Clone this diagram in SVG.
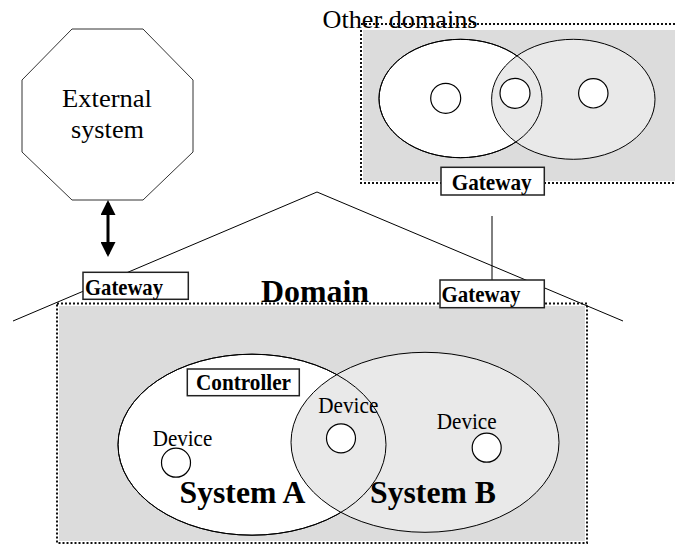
<svg xmlns="http://www.w3.org/2000/svg" width="675" height="545" viewBox="0 0 675 545">
<style>
  .serif { font-family: "Liberation Serif", "Times New Roman", serif; fill: #000; }
  .big { font-size: 26px; }
  .dev { font-size: 23px; }
  .lbl { font-size: 23px; font-weight: bold; }
  .title { font-size: 32px; font-weight: bold; }
  .box { fill: #fff; stroke: #222; stroke-width: 1.5; }
  .thin { fill: none; stroke: #000; stroke-width: 1; }
  .dots { fill: none; stroke: #111; stroke-width: 2; stroke-dasharray: 2 2; }
  .bg { fill: #dcdcdc; }
  .sysA { fill: #fff; stroke: #000; stroke-width: 1; }
  .sysB { fill: #e9e9e9; stroke: #000; stroke-width: 1; }
  .dot { fill: #fff; stroke: #000; stroke-width: 1.2; }
</style>
<defs>
  <marker id="head" markerUnits="userSpaceOnUse" markerWidth="15" markerHeight="15" refX="12" refY="7.5" orient="auto-start-reverse">
    <path d="M0,0 L15,7.5 L0,15 z" fill="#000"/>
  </marker>
</defs>

<!-- Other domains -->
<g id="other-domains">
  <rect class="bg" x="363" y="30" width="312" height="151"/>
  <text class="serif big" x="322.5" y="28" textLength="155" lengthAdjust="spacingAndGlyphs">Other domains</text>
  <path class="dots" d="M361,24 H675 M361,30 V183 H675"/>
  <ellipse class="sysA" cx="460.5" cy="98.5" rx="81.5" ry="59.2"/>
  <ellipse class="sysB" cx="573.3" cy="99.3" rx="81.7" ry="60"/>
  <ellipse class="thin" cx="460.5" cy="98.5" rx="81.5" ry="59.2"/>
  <circle class="dot" cx="445.7" cy="98.3" r="15"/>
  <circle class="dot" cx="515" cy="93.3" r="15"/>
  <circle class="dot" cx="593.3" cy="93.3" r="14.7"/>
</g>

<!-- Domain area -->
<g id="domain">
  <rect class="bg" x="59" y="306" width="526" height="235"/>
  <rect class="dots" x="57" y="303.5" width="530" height="239.5"/>
  <ellipse class="sysA" cx="252" cy="444.7" rx="134" ry="90.5"/>
  <ellipse class="sysB" cx="425" cy="442.3" rx="134" ry="90"/>
  <ellipse class="thin" cx="252" cy="444.7" rx="134" ry="90.5"/>
  <text class="serif title" x="261" y="301.5" textLength="108" lengthAdjust="spacingAndGlyphs">Domain</text>
</g>

<g id="system-a">
  <text class="serif title" x="179.5" y="503.3" textLength="126" lengthAdjust="spacingAndGlyphs">System A</text>
</g>
<g id="system-b">
  <text class="serif title" x="370" y="503.3" textLength="126" lengthAdjust="spacingAndGlyphs">System B</text>
</g>

<g id="controller">
  <rect class="box" x="187.3" y="369" width="112" height="26.7"/>
  <text class="serif lbl" x="196" y="389.5" textLength="95" lengthAdjust="spacingAndGlyphs">Controller</text>
</g>

<g id="device-left">
  <text class="serif dev" x="152.7" y="445.7" textLength="59.6" lengthAdjust="spacingAndGlyphs">Device</text>
  <circle class="dot" cx="176" cy="462.7" r="14.5"/>
</g>
<g id="device-middle">
  <text class="serif dev" x="318.3" y="413.3" textLength="60" lengthAdjust="spacingAndGlyphs">Device</text>
  <circle class="dot" cx="341" cy="438.3" r="14.5"/>
</g>
<g id="device-right">
  <text class="serif dev" x="436.7" y="429.3" textLength="60" lengthAdjust="spacingAndGlyphs">Device</text>
  <circle class="dot" cx="486.7" cy="447.7" r="14.5"/>
</g>

<!-- External system -->
<g id="external-system">
  <polygon fill="#fff" stroke="#333" stroke-width="1" points="72,29 143,29 193,80 193,152 143,200 72,200 22,152 22,80"/>
  <text class="serif big" x="107" y="106.7" text-anchor="middle" textLength="90" lengthAdjust="spacingAndGlyphs">External</text>
  <text class="serif big" x="107.5" y="138.3" text-anchor="middle" textLength="73" lengthAdjust="spacingAndGlyphs">system</text>
</g>

<!-- Connectors -->
<g id="connectors">
  <polyline class="thin" points="13,321 317,192 623,321"/>
  <line x1="108" y1="203" x2="108" y2="254" stroke="#000" stroke-width="3" marker-start="url(#head)" marker-end="url(#head)"/>
  <line class="thin" x1="492" y1="216" x2="492" y2="280"/>
</g>

<!-- Gateways -->
<g id="gateway-top">
  <rect class="box" x="441" y="167.3" width="103.3" height="27.7"/>
  <text class="serif lbl" x="491.7" y="189.5" text-anchor="middle" textLength="80" lengthAdjust="spacingAndGlyphs">Gateway</text>
</g>
<g id="gateway-left">
  <rect class="box" x="83" y="272.3" width="105.3" height="27"/>
  <text class="serif lbl" x="85" y="294.5" textLength="78" lengthAdjust="spacingAndGlyphs">Gateway</text>
</g>
<g id="gateway-right">
  <rect class="box" x="440" y="280" width="104.3" height="27.7"/>
  <text class="serif lbl" x="441.5" y="301.7" textLength="79" lengthAdjust="spacingAndGlyphs">Gateway</text>
</g>
</svg>
